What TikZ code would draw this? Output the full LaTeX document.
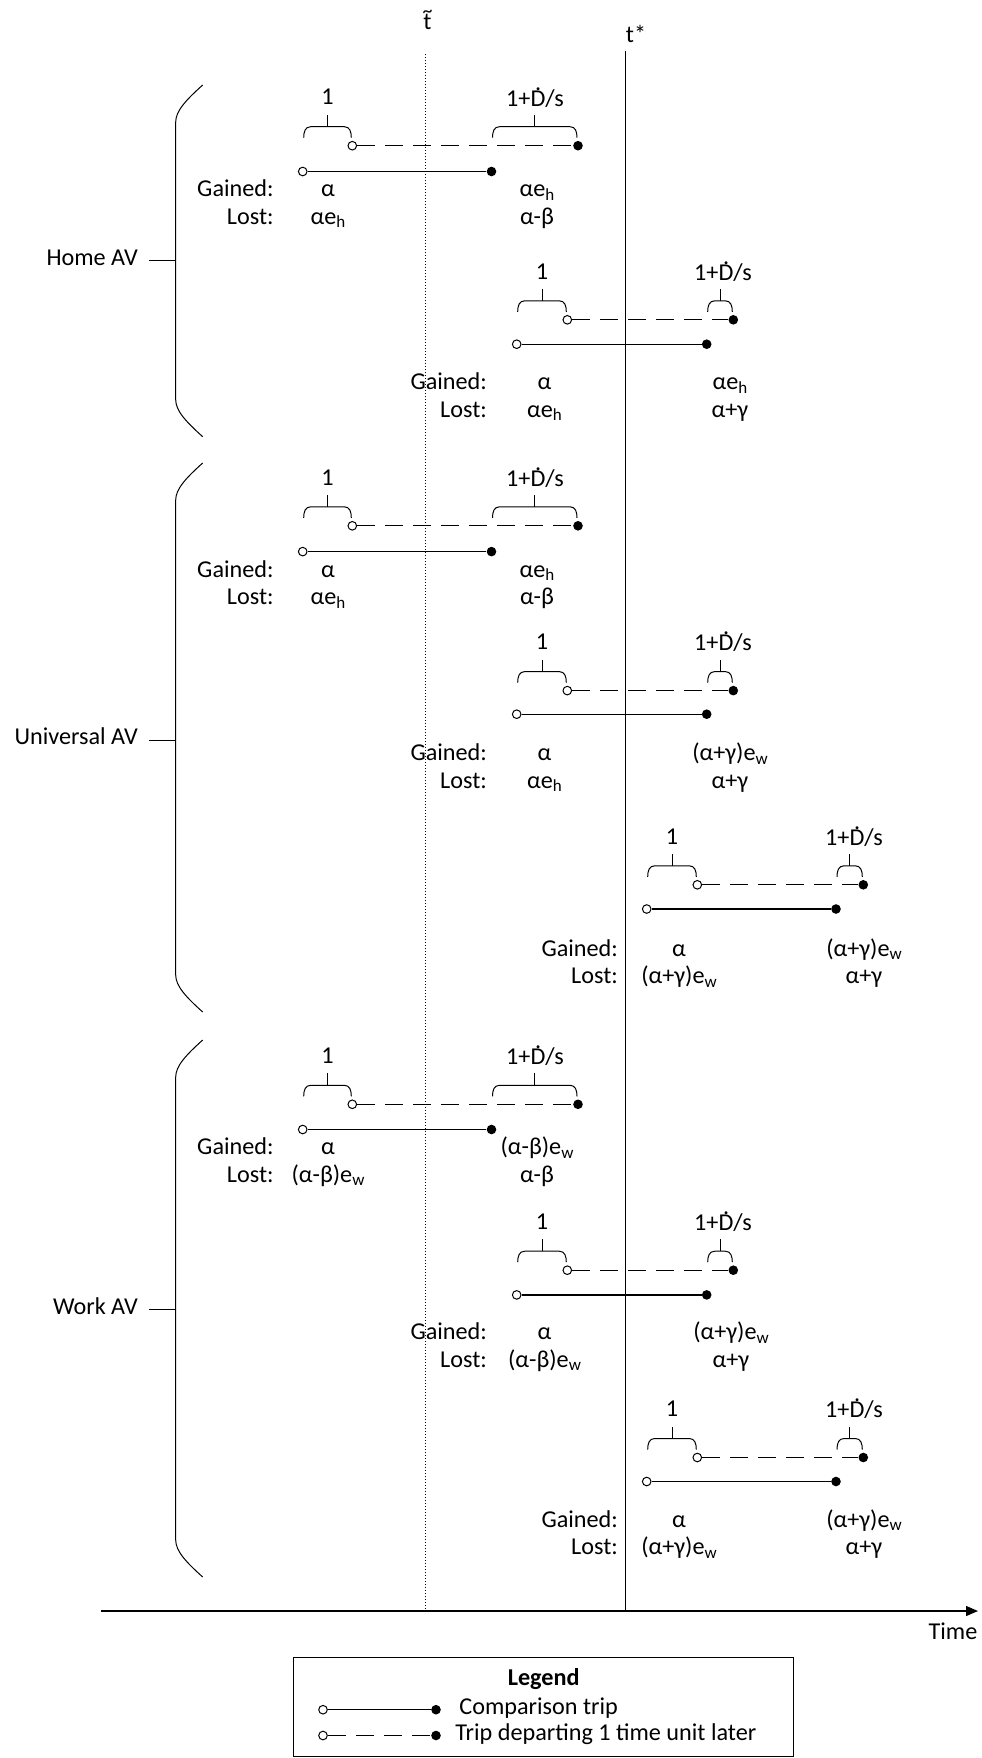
\documentclass[tikz,border=0pt]{standalone}
\usepackage{fontspec}
\setmainfont{Carlito}
\usetikzlibrary{arrows.meta}
\newcommand\sbs[1]{\raisebox{-0.3ex}{\fontsize{8.5}{9}\selectfont #1}}
\newcommand\Ddot{\leavevmode\makebox[0pt][l]{\hspace{0.19em}\raisebox{0.66em}{.}}D}
\newcommand\ttilde{\leavevmode\makebox[0pt][l]{\hspace{-0.03em}\raisebox{0.47em}{\fontsize{10}{10}\selectfont\textasciitilde}}t}
\tikzset{
  every node/.style={inner sep=0pt, font=\fontsize{12.1}{14}\selectfont},
  opendot/.style={circle, draw, fill=white, line width=0.5pt, minimum size=4.3pt},
  fulldot/.style={circle, fill=black, minimum size=4.8pt},
  tripline/.style={line width=0.65pt},
  latertrip/.style={line width=0.65pt, dash pattern=on 9pt off 5pt},
  brc/.style={line width=0.5pt},
  grpbrace/.style={line width=0.5pt},
  refline/.style={line width=0.6pt},
  refdots/.style={line width=0.5pt, dash pattern=on 0.6pt off 0.9pt},
}
% brace over [x1,x2] above a dashed line at y
\newcommand\tbrace[3]{%
  \draw[brc] (#1+1,#3-8) .. controls (#1+1,#3-14) and (#1+2.5,#3-19) .. (#1+8,#3-19)
     -- (#2-8,#3-19) .. controls (#2-2.5,#3-19) and (#2-1,#3-14) .. (#2-1,#3-8);
  \draw[brc] ({(#1+#2)/2},#3-19) -- ({(#1+#2)/2},#3-31);
}
% name, y dashed, y solid, a, c, b, d, x of second label
\newcommand\trip[8]{%
  \node[opendot] (#1sa) at (#4,#3) {};
  \node[fulldot] (#1sb) at (#6,#3) {};
  \node[opendot] (#1da) at (#5,#2) {};
  \node[fulldot] (#1db) at (#7,#2) {};
  \draw[tripline] (#1sa) -- (#1sb);
  \draw[latertrip] (#1da) -- (#1db);
  \tbrace{#4}{#5}{#2}
  \tbrace{#6}{#7}{#2}
  \node (#1one) at ({(#4+#5)/2},#2-48.5) {1};
  \node (#1rate) at (#8,#2-48.5) {1+\Ddot/s};
}
% name, y gained, x right edge of captions, left x, left G, left L, right x, right G, right L
\newcommand\vals[9]{%
  \node[anchor=mid east] (#1g) at (#3,#2) {Gained:};
  \node[anchor=mid east] (#1l) at (#3,#2+27.5) {Lost:};
  \node[anchor=mid] (#1lg) at (#4,#2) {#5};
  \node[anchor=mid] (#1ll) at (#4,#2+27.5) {#6};
  \node[anchor=mid] (#1rg) at (#7,#2) {#8};
  \node[anchor=mid] (#1rl) at (#7,#2+27.5) {#9};
}
% name, top, middle, bottom, label
\newcommand\grp[5]{%
  \draw[grpbrace] (202.7,#2) .. controls (186,#2+15) and (175.7,#2+26) .. (175.7,#2+37)
     -- (175.7,#4-37) .. controls (175.7,#4-26) and (186,#4-15) .. (202.7,#4);
  \node[anchor=mid east] (#1) at (138.3,#3) {#5};
  \coordinate (#1a) at (149.3,#3);
  \coordinate (#1b) at (175.7,#3);
  \draw[grpbrace] (#1a) -- (#1b);
}
\begin{document}
\begin{tikzpicture}[x=0.5pt,y=-0.5pt]
\useasboundingbox (0,0) rectangle (981,1758);

% reference times
\coordinate (tta) at (425,54);
\coordinate (ttb) at (425,1611);
\coordinate (tsa) at (625.7,51);
\coordinate (tsb) at (625.7,1611);
\draw[refdots] (tta) -- (ttb);
\draw[refline] (tsa) -- (tsb);
\node[anchor=base] (ttl) at (427.5,29) {\ttilde};
\node (tsl) at (636,34) {t*};

% axis
\coordinate (ax0) at (101,1611);
\coordinate (ax1) at (978,1611);
\draw[line width=0.65pt,-{Triangle[length=6pt,width=5pt]}] (ax0) -- (ax1);
\node (time) at (953,1631) {Time};

% groups
\grp{home}{85}{260.7}{436.7}{Home AV}
\grp{univ}{463}{740}{1012}{Universal AV}
\grp{work}{1040}{1309.5}{1577}{Work AV}

% Home AV
\trip{h1}{145.7}{171.5}{302.7}{352.3}{491.5}{578}{535}
\vals{h1}{192}{274}{328}{α}{αe\sbs{h}}{537}{αe\sbs{h}}{α-β}
\trip{h2}{319.8}{344.2}{516.7}{567.3}{706.7}{733.3}{723}
\vals{h2}{385}{487.3}{544.5}{α}{αe\sbs{h}}{730}{αe\sbs{h}}{α+γ}

% Universal AV
\trip{u1}{525.8}{551.6}{302.7}{352.3}{491.5}{578}{535}
\vals{u1}{572.5}{274}{328}{α}{αe\sbs{h}}{537}{αe\sbs{h}}{α-β}
\trip{u2}{690.6}{714.2}{516.7}{567.3}{706.7}{733.3}{723}
\vals{u2}{756}{487.3}{544.5}{α}{αe\sbs{h}}{730}{(α+γ)e\sbs{w}}{α+γ}
\trip{u3}{884.8}{909}{646.7}{697.3}{836}{863.3}{854}
\vals{u3}{951.7}{618.3}{679}{α}{(α+γ)e\sbs{w}}{864}{(α+γ)e\sbs{w}}{α+γ}

% Work AV
\trip{w1}{1104.3}{1129.5}{302.7}{352.3}{491.5}{578}{535}
\vals{w1}{1150}{274}{328}{α}{(α-β)e\sbs{w}}{537}{(α-β)e\sbs{w}}{α-β}
\trip{w2}{1270.2}{1294.9}{516.7}{567.3}{706.7}{733.3}{723}
\vals{w2}{1335.2}{487.3}{544.5}{α}{(α-β)e\sbs{w}}{731}{(α+γ)e\sbs{w}}{α+γ}
\trip{w3}{1457.5}{1481.5}{646.7}{697.3}{836}{863.3}{854}
\vals{w3}{1522.5}{618.3}{679}{α}{(α+γ)e\sbs{w}}{864}{(α+γ)e\sbs{w}}{α+γ}

% legend
\node[draw, line width=0.6pt, minimum width=250pt, minimum height=49.6pt] (legend) at (543.7,1707) {};
\node (legtitle) at (543.7,1679.5) {\bfseries Legend};
\node[opendot] (l1a) at (323,1709.7) {};
\node[fulldot] (l1b) at (436,1709.7) {};
\draw[tripline] (l1a) -- (l1b);
\node[anchor=mid west] (l1t) at (459,1709.7) {Comparison trip};
\node[opendot] (l2a) at (323,1735.5) {};
\node[fulldot] (l2b) at (436,1735.5) {};
\draw[latertrip] (l2a) -- (l2b);
\node[anchor=mid west] (l2t) at (455,1735.5) {Trip departing 1 time unit later};
\end{tikzpicture}
\end{document}
